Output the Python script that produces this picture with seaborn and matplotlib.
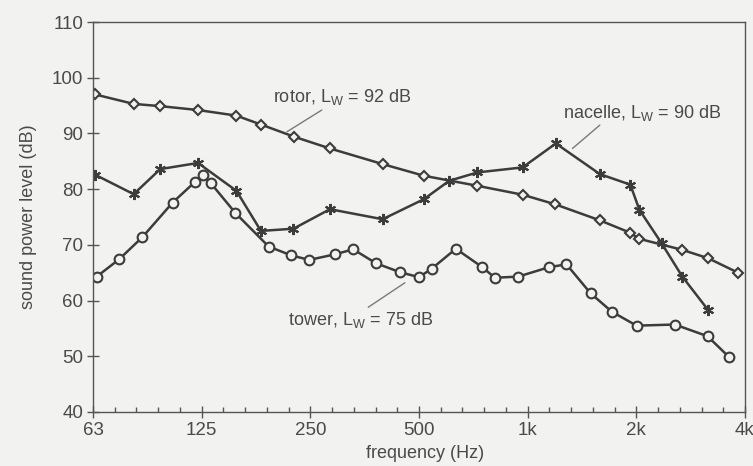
import matplotlib
matplotlib.use("Agg")
import matplotlib.pyplot as plt
from matplotlib.ticker import NullFormatter
import seaborn as sns
import numpy as np
import pandas as pd

# ---- data ----
rotor_f = [63.3, 81.0, 96.0, 122.1, 155.9, 182.4, 225.6, 283.3, 396.4, 515.9,
           725.7, 968, 1189, 1585, 1919, 2033, 2682, 3162, 3828]
rotor_db = [97.0, 95.3, 94.9, 94.2, 93.2, 91.6, 89.4, 87.3, 84.5, 82.4,
            80.6, 79.0, 77.3, 74.4, 72.2, 71.1, 69.1, 67.6, 65.0]

nacelle_f = [63.3, 81.0, 96.0, 122.1, 156.0, 182.4, 224.5, 283.3, 396.4, 515.9,
             606.2, 725.7, 968, 1197, 1585, 1925, 2039, 2349, 2682, 3162]
nacelle_db = [82.6, 79.1, 83.6, 84.7, 79.7, 72.5, 72.9, 76.4, 74.6, 78.2,
              81.5, 83.0, 83.9, 88.2, 82.7, 80.8, 76.3, 70.3, 64.3, 58.3]

tower_f = [64.0, 73.8, 85.7, 103.9, 119.8, 125.8, 132.4, 155.1, 191.6, 221.6,
           248.3, 292.5, 328.7, 379.9, 442.7, 499.8, 541.8, 632.6, 748.3, 811.3,
           941.4, 1147, 1281, 1494, 1711, 2003, 2557, 3150, 3608]
tower_db = [64.3, 67.4, 71.4, 77.6, 81.3, 82.5, 81.1, 75.7, 69.7, 68.1,
            67.3, 68.3, 69.2, 66.7, 65.1, 64.2, 65.7, 69.3, 66.0, 64.1,
            64.3, 66.0, 66.5, 61.3, 58.0, 55.5, 55.7, 53.6, 49.9]

xtick_vals = [62.5, 125, 250, 500, 1000, 2000, 4000]
xtick_labels = ["63", "125", "250", "500", "1k", "2k", "4k"]
ytick_vals = [40, 50, 60, 70, 80, 90, 100, 110]

# ---- style ----
BG = "#f2f2f0"
INK = "#3c3c3c"
TXT = "#4a4a4a"
sns.set_style("ticks")
plt.rcParams["font.family"] = ["Liberation Sans", "DejaVu Sans"]
plt.rcParams["mathtext.fontset"] = "custom"
plt.rcParams["mathtext.rm"] = "Liberation Sans"
plt.rcParams["mathtext.it"] = "Liberation Sans"

fig = plt.figure(figsize=(7.53, 4.66), dpi=100, facecolor=BG)
ax = fig.add_axes([93 / 753, 1 - 412 / 466, (745 - 93) / 753, (412 - 22) / 466])
ax.set_facecolor(BG)

df_r = pd.DataFrame({"f": rotor_f, "db": rotor_db})
df_n = pd.DataFrame({"f": nacelle_f, "db": nacelle_db})
df_t = pd.DataFrame({"f": tower_f, "db": tower_db})

common = dict(color=INK, linewidth=1.8, markeredgecolor=INK, markeredgewidth=1.5)
sns.lineplot(data=df_r, x="f", y="db", ax=ax, marker="D", markersize=5.0,
             markerfacecolor=BG, **common)
sns.lineplot(data=df_n, x="f", y="db", ax=ax, marker=(6, 2, 0), markersize=8,
             **common)
sns.lineplot(data=df_t, x="f", y="db", ax=ax, marker="o", markersize=7.0,
             markerfacecolor=BG, **common)

ax.set_xscale("log", base=2)
ax.set_xlim(62.5, 4000)
ax.set_ylim(40, 110)
ax.set_xticks(xtick_vals)
ax.set_xticklabels(xtick_labels)
minor = [62.5 * 2 ** (k / 5) for k in range(31) if k % 5 != 0]
ax.set_xticks(minor, minor=True)
ax.xaxis.set_minor_formatter(NullFormatter())
ax.set_yticks(ytick_vals)
ax.set_yticklabels([str(v) for v in ytick_vals])

for s in ax.spines.values():
    s.set_visible(True)
    s.set_color("#555555")
    s.set_linewidth(1.0)

ax.tick_params(axis="both", which="major", direction="inout", length=8,
               width=1.0, color="#555555", labelsize=13.5, labelcolor=TXT, pad=3)
ax.tick_params(axis="x", which="minor", direction="in", length=3.5, width=1.0,
               color="#555555")
ax.tick_params(axis="x", which="major", pad=3)

ax.set_xlabel("frequency (Hz)", fontsize=13, color=TXT, labelpad=6)
ax.xaxis.set_label_coords(0.51, -0.085)
ax.set_ylabel("sound power level (dB)", fontsize=13, color=TXT, labelpad=11)

# ---- annotations ----
lead = dict(color="#7a7a7a", linewidth=1.0)
ax.text(197, 96.6, r"rotor, L$_{\mathrm{W}}$ = 92 dB", fontsize=13, color=TXT,
        ha="left", va="center")
ax.plot([269, 215.4], [94.2, 90.3], **lead)
ax.text(1254, 93.6, r"nacelle, L$_{\mathrm{W}}$ = 90 dB", fontsize=13, color=TXT,
        ha="left", va="center")
ax.plot([1585, 1331], [91.5, 87.3], **lead)
ax.text(217, 56.5, r"tower, L$_{\mathrm{W}}$ = 75 dB", fontsize=13, color=TXT,
        ha="left", va="center")
ax.plot([457, 361.7], [63.2, 58.8], **lead)

fig.savefig("out.png", dpi=100, facecolor=BG)
